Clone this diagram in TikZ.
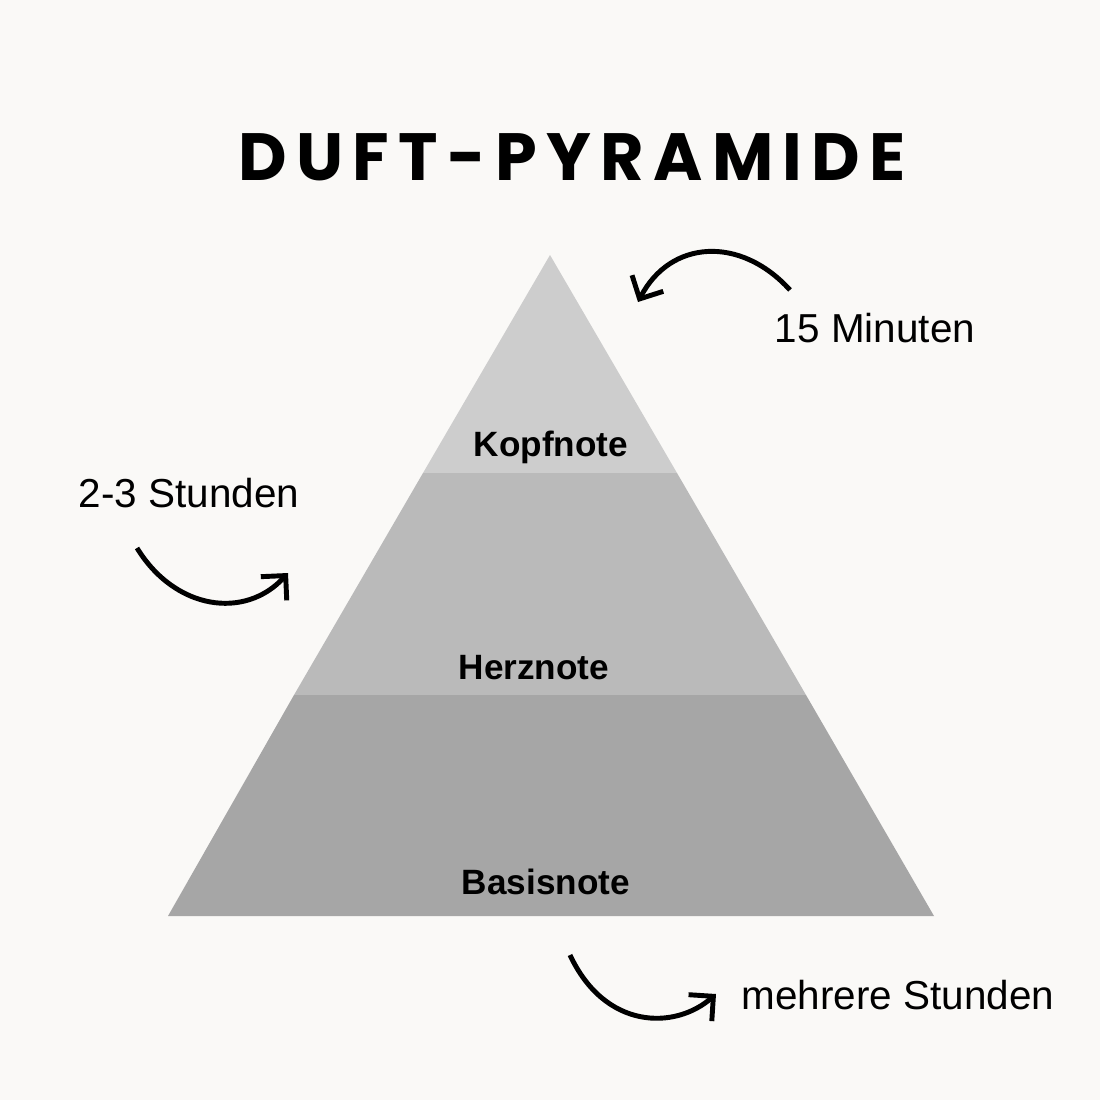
\documentclass[tikz,border=0pt]{standalone}
\usepackage{fontspec}
\setmainfont{Liberation Sans}
\newfontfamily\titlefont[LetterSpace=14]{Poppins Bold}
\usepackage{tikz}
\usetikzlibrary{arrows.meta}
\definecolor{bg}{HTML}{FAF9F7}
\definecolor{topband}{HTML}{CDCDCD}
\definecolor{midband}{HTML}{BABABA}
\definecolor{lowband}{HTML}{A6A6A6}
\tikzset{
  note/.style={font=\fontsize{10}{12}\selectfont\bfseries, text=black},
  timelabel/.style={font=\fontsize{11.5}{14}\selectfont, text=black},
  curvearrow/.style={line width=1.4pt, -{Straight Barb[length=5pt,width=10pt]}}
}
\begin{document}
\begin{tikzpicture}[x=0.01cm,y=-0.01cm]
        \fill[bg] (0,0) rectangle (1100,1100);
        \node (title) at (572,157) {\titlefont\fontsize{19}{24}\selectfont DUFT-PYRAMIDE};

        % layers
        \fill[topband] (550,255) -- (677,473) -- (423,473) -- cycle;
        \fill[midband] (423,473) -- (677,473) -- (806,695) -- (294,695) -- cycle;
        \fill[lowband] (294,695) -- (806,695) -- (934,916) -- (168,916) -- cycle;

        \node[note] (kopf) at (551,447) {Kopfnote};
        \node[note] (herz) at (534,668) {Herznote};
        \node[note] (basis) at (546,882) {Basisnote};

        \node[timelabel] (minuten) at (875,328) {15 Minuten};
        \node[timelabel] (stunden) at (189,493) {2-3 Stunden};
        \node[timelabel] (mehrere) at (898,995) {mehrere Stunden};

        % arrows
        \coordinate (m1) at (790,290);
        \coordinate (m2) at (638,302);
        \coordinate (s1) at (137,548);
        \coordinate (s2) at (288,573);
        \coordinate (b1) at (570,955);
        \coordinate (b2) at (716,994);
        \draw[curvearrow] (m1) .. controls (740,235) and (670,240) .. (m2);
        \draw[curvearrow] (s1) .. controls (175,610) and (245,620) .. (s2);
        \draw[curvearrow] (b1) .. controls (605,1030) and (675,1030) .. (b2);
\end{tikzpicture}
\end{document}
